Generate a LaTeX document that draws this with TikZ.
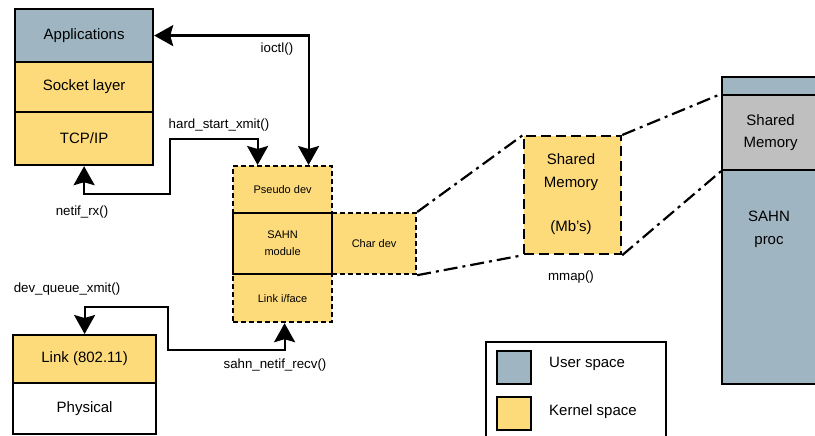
\documentclass[tikz,border=0pt]{standalone}
\usepackage{fontspec}
\setmainfont{Liberation Sans}
\usetikzlibrary{arrows.meta,calc}
\definecolor{ublue}{HTML}{9FB5C2}
\definecolor{kyel}{HTML}{FEDB7A}
\definecolor{smgray}{HTML}{BFBFBF}
\begin{document}
\begin{tikzpicture}[x=1pt,y=-1pt,
  box/.style={draw=black, line width=2.2pt, inner sep=0pt, anchor=north west, align=center, font=\fontsize{15}{22}\selectfont},
  dbox/.style={box, dash pattern=on 5pt off 3pt, fill=kyel, font=\fontsize{11}{17}\selectfont},
  lbl/.style={inner sep=0pt, font=\fontsize{13.3}{16}\selectfont},
  big/.style={inner sep=0pt, align=center, font=\fontsize{15}{23}\selectfont},
  conn/.style={line width=2.2pt, {Stealth[length=19pt,width=21pt,inset=3pt]}-{Stealth[length=19pt,width=21pt,inset=3pt]}},
  dd/.style={line width=2.2pt, dash pattern=on 14pt off 5pt on 3pt off 5pt}
]
\useasboundingbox (0,0) rectangle (815,436);
\clip (0,0) rectangle (815,436);

% left upper stack
\node[box, fill=ublue, minimum width=138pt, minimum height=53pt] (app) at (14,8) {Applications};
\node[box, fill=kyel, minimum width=138pt, minimum height=50pt] (sock) at (14,61) {Socket layer};
\node[box, fill=kyel, minimum width=138pt, minimum height=53pt] (tcp) at (14,111) {TCP/IP};

% left lower stack
\node[box, fill=kyel, minimum width=143pt, minimum height=48pt] (link) at (12,334) {Link (802.11)};
\node[box, fill=white, minimum width=143pt, minimum height=51pt] (phys) at (12,382) {Physical};

% middle module
\node[dbox, minimum width=99pt, minimum height=47pt] (pseudo) at (232,165) {Pseudo dev};
\node[dbox, minimum width=99pt, minimum height=48pt] (linkif) at (232,273) {Link i/face};
\node[dbox, minimum width=84pt, minimum height=61pt] (chardev) at (331,212) {Char dev};
\node[box, fill=kyel, minimum width=99pt, minimum height=61pt, font=\fontsize{11}{17}\selectfont] (sahn) at (232,212) {SAHN\\module};

% shared memory (kernel)
\node[box, fill=kyel, dash pattern=on 10pt off 5pt, minimum width=97pt, minimum height=118pt] (shm) at (523,135) {};
\node[big] (shmtxt) at (571,194) {Shared\\Memory\\[21pt](Mb's)};
\node[lbl] (mmap) at (571,277) {mmap()};

% right process
\node[box, fill=ublue, minimum width=97pt, minimum height=18pt] (ptop) at (721,76) {};
\node[box, fill=smgray, minimum width=97pt, minimum height=75pt] (rshm) at (721,94) {Shared\\Memory};
\node[box, fill=ublue, minimum width=97pt, minimum height=214pt] (proc) at (721,169) {};
\node[big] (proctxt) at (769,229) {SAHN\\proc};

% dash-dot mapping lines
\draw[dd] (chardev.north east) -- (shm.north west);
\draw[dd] (chardev.south east) -- (shm.south west);
\draw[dd] (shm.north east) -- (rshm.north west);
\draw[dd] (shm.south east) -- (rshm.south west);

% connectors
\draw[conn] (app.east) -| ([xshift=26pt]pseudo.north);
\node[lbl] (ioctl) at (277,49) {ioctl()};

\draw[conn] (tcp.south) -- ++(0,28) -| (170,139) -| ([xshift=-25pt]pseudo.north);
\node[lbl] (hsx) at (219,125) {hard\_start\_xmit()};
\node[lbl] (netif) at (82,212) {netif\_rx()};

\draw[conn] ([xshift=2pt]linkif.south) -- ++(0,27) -| (168,307) -| (link.north);
\node[lbl] (dqx) at (67,289) {dev\_queue\_xmit()};
\node[lbl] (snr) at (275,365) {sahn\_netif\_recv()};

% legend
\node[box, fill=white, minimum width=180pt, minimum height=104pt] (legend) at (485,341) {};
\node[box, fill=ublue, minimum width=34pt, minimum height=33pt] (sw1) at (496,350) {};
\node[box, fill=kyel, minimum width=34pt, minimum height=33pt] (sw2) at (496,396) {};
\node[big, anchor=west] (usr) at (549,364) {User space};
\node[big, anchor=west] (krn) at (549,412) {Kernel space};
\end{tikzpicture}
\end{document}
